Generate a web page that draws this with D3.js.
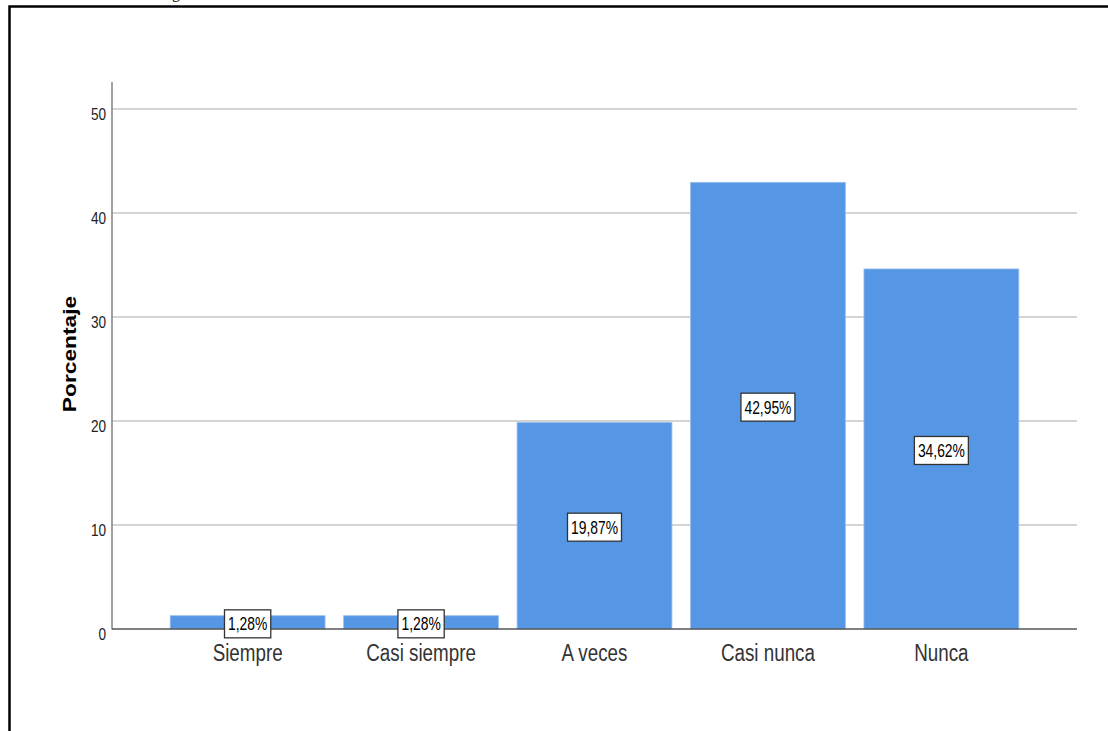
<!DOCTYPE html>
<html>
<head>
<meta charset="utf-8">
<script src="https://cdn.jsdelivr.net/npm/d3@7"></script>
<style>
  html, body { margin: 0; padding: 0; background: #fff; }
  svg { display: block; }
</style>
</head>
<body>
<svg id="chart" width="1108" height="731"></svg>
<script>
// Response categories and their percentages
const categories = ["Siempre", "Casi siempre", "A veces", "Casi nunca", "Nunca"];
const percentages = [1.28, 1.28, 19.87, 42.95, 34.62];
const valueLabels = ["1,28%", "1,28%", "19,87%", "42,95%", "34,62%"];
const yTicks = [0, 10, 20, 30, 40, 50];

const svg = d3.select("#chart");
const sans = "'Liberation Sans', Arial, Helvetica, sans-serif";
// Narrow look: regular sans glyphs squeezed horizontally
const NARROW = 0.8;

// Frame around the figure
svg.append("path")
  .attr("d", "M9.5,731 V6.5 H1108")
  .attr("fill", "none")
  .attr("stroke", "#000")
  .attr("stroke-width", 2.5);

// Descender of the caption line above the frame
svg.append("text")
  .attr("x", 172).attr("y", -2)
  .attr("font-family", "'Liberation Serif', 'Times New Roman', serif")
  .attr("font-size", 16)
  .attr("fill", "#000")
  .text("g");

const plot = { left: 112, right: 1077, top: 82, bottom: 629 };

const y = d3.scaleLinear().domain([0, 50]).range([629, 109]);
const x = d3.scaleBand()
  .domain(categories)
  .range([161, 1028])
  .paddingInner(0.107)
  .paddingOuter(0.053);

// Horizontal gridlines
svg.append("g")
  .selectAll("line")
  .data(yTicks.filter(d => d > 0))
  .join("line")
  .attr("x1", plot.left).attr("x2", plot.right)
  .attr("y1", d => y(d)).attr("y2", d => y(d))
  .attr("stroke", "#c6c6c6")
  .attr("stroke-width", 1.3);

// Bars
svg.append("g")
  .selectAll("rect")
  .data(percentages)
  .join("rect")
  .attr("x", (d, i) => x(categories[i]))
  .attr("width", x.bandwidth())
  .attr("y", d => y(d))
  .attr("height", d => y(0) - y(d))
  .attr("fill", "#5596e5")
  .attr("stroke", "#9cc0ee")
  .attr("stroke-width", 0.8);

// Y axis
const yAxis = d3.axisLeft(y).tickValues(yTicks).tickSize(0).tickPadding(6);
const yg = svg.append("g").attr("transform", `translate(${plot.left},0)`).call(yAxis);
yg.select(".domain").remove();
yg.selectAll("text")
  .attr("font-family", sans)
  .attr("font-size", 17)
  .attr("fill", "#222")
  .attr("dy", null)
  .attr("y", 10)
  .attr("x", -6 / NARROW)
  .attr("transform", `scale(${NARROW},1)`);
svg.append("line")
  .attr("x1", plot.left).attr("x2", plot.left)
  .attr("y1", plot.top).attr("y2", plot.bottom + 0.5)
  .attr("stroke", "#8a8a8a").attr("stroke-width", 1.6);

// X axis baseline
svg.append("line")
  .attr("x1", plot.left).attr("x2", plot.right)
  .attr("y1", plot.bottom).attr("y2", plot.bottom)
  .attr("stroke", "#555").attr("stroke-width", 1.3);

// Category labels
const xAxis = d3.axisBottom(x).tickSize(0).tickPadding(0);
const xg = svg.append("g").attr("transform", `translate(0,${plot.bottom})`).call(xAxis);
xg.select(".domain").remove();
xg.selectAll("text")
  .attr("font-family", sans)
  .attr("font-size", 23.5)
  .attr("fill", "#333")
  .attr("dy", null)
  .attr("y", 32)
  .attr("transform", `scale(${NARROW},1)`);

// Axis title
svg.append("text")
  .attr("transform", "translate(76,354) rotate(-90) scale(1.3,1)")
  .attr("text-anchor", "middle")
  .attr("font-family", sans)
  .attr("font-weight", "bold")
  .attr("font-size", 17.5)
  .attr("fill", "#000")
  .text("Porcentaje");

// Value labels in boxes at bar mid-height
const labels = svg.append("g")
  .selectAll("g")
  .data(percentages)
  .join("g")
  .attr("transform", (d, i) => `translate(${x(categories[i]) + x.bandwidth() / 2},${(y(d) + y(0)) / 2 + 1.5})`);

labels.append("text")
  .attr("text-anchor", "middle")
  .attr("y", 6.5)
  .attr("font-family", sans)
  .attr("font-size", 18)
  .attr("fill", "#000")
  .attr("transform", "scale(0.77,1)")
  .text((d, i) => valueLabels[i]);

labels.each(function() {
  const g = d3.select(this);
  const bb = g.select("text").node().getBBox();
  const w = bb.width * 0.77;
  g.insert("rect", "text")
    .attr("x", -w / 2 - 3.5)
    .attr("y", -14)
    .attr("width", w + 7)
    .attr("height", 28)
    .attr("fill", "#fff")
    .attr("stroke", "#333")
    .attr("stroke-width", 1.3);
});
</script>
</body>
</html>
